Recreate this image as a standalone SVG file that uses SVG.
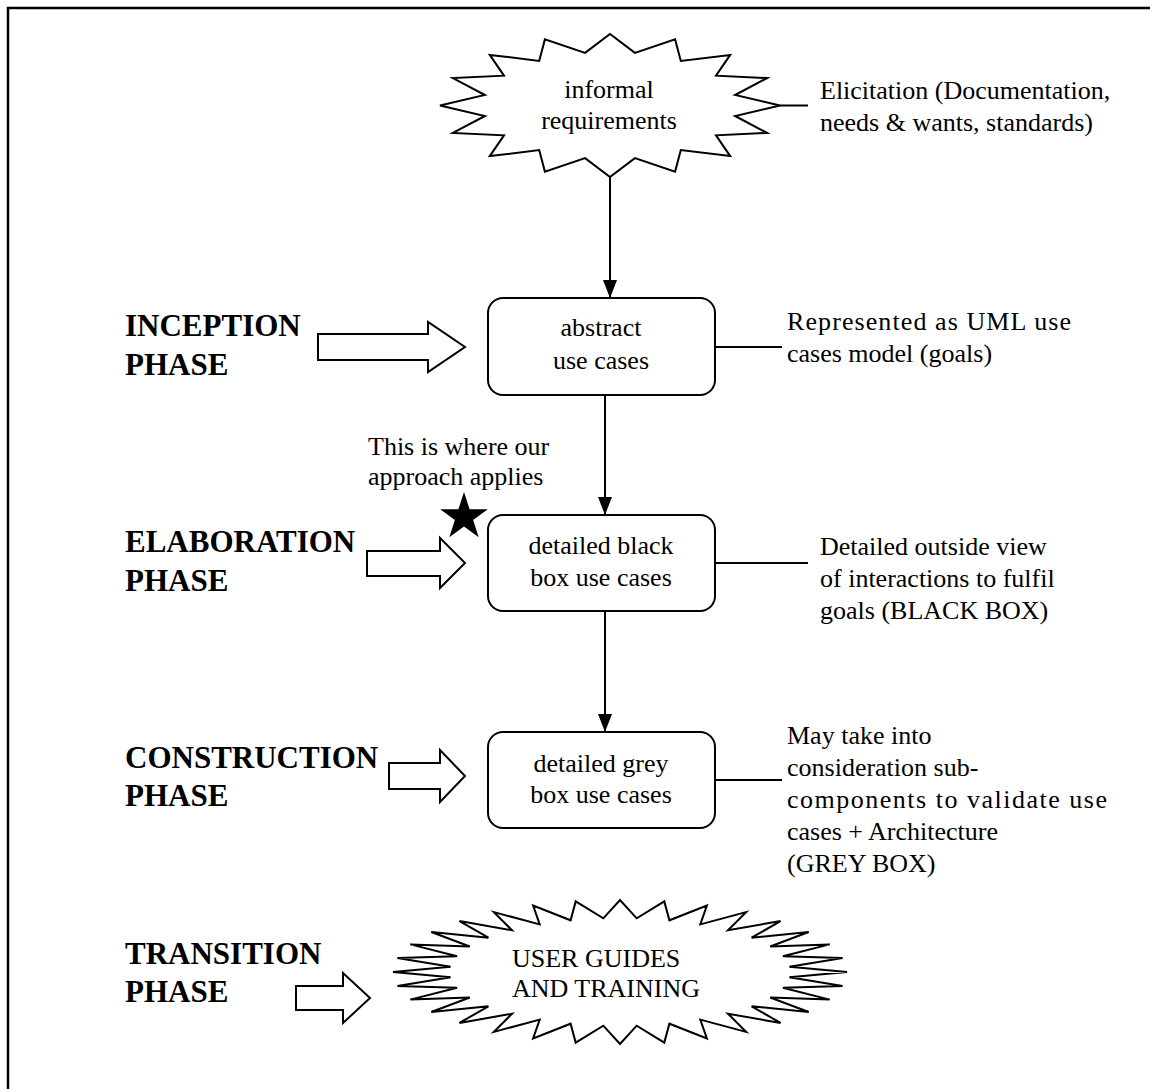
<svg xmlns="http://www.w3.org/2000/svg" width="1150" height="1089" viewBox="0 0 1150 1089">
  <defs>
    <style>
      .t { font-family: "Liberation Serif", "Times New Roman", serif; font-size: 26px; fill: #000; }
      .b { font-family: "Liberation Serif", "Times New Roman", serif; font-size: 31px; font-weight: bold; fill: #000; }
      .mid { text-anchor: middle; }
      .shape { fill: #fff; stroke: #000; stroke-width: 2; stroke-linejoin: miter; }
      .wire { fill: none; stroke: #000; stroke-width: 2; }
    </style>
    <marker id="head" viewBox="0 0 18 14" refX="18" refY="7" markerWidth="18" markerHeight="14" markerUnits="userSpaceOnUse" orient="auto">
      <path d="M0,0 L18,7 L0,14 Z" fill="#000"/>
    </marker>
  </defs>
  <rect width="1150" height="1089" fill="#fff"/>

  <!-- page frame: top and left edges only -->
  <g id="frame">
    <path d="M8,1089 V8 H1150" fill="none" stroke="#000" stroke-width="2.5"/>
  </g>

  <!-- connectors -->
  <g id="connectors">
    <line class="wire" x1="610" y1="177" x2="610" y2="298" marker-end="url(#head)"/>
    <line class="wire" x1="605" y1="395" x2="605" y2="515" marker-end="url(#head)"/>
    <line class="wire" x1="605" y1="611" x2="605" y2="732" marker-end="url(#head)"/>
    <line class="wire" x1="780" y1="105.5" x2="808" y2="105.5"/>
    <line class="wire" x1="715" y1="347" x2="782" y2="347"/>
    <line class="wire" x1="715" y1="563" x2="808" y2="563"/>
    <line class="wire" x1="715" y1="780" x2="782" y2="780"/>
  </g>

  <!-- 16-point burst: informal requirements -->
  <g id="informal-requirements">
    <polygon class="shape" points="780,105.5 735.1,95 767.1,78.1 716,75.7 730.2,54.9 680.8,60.9 675.1,39.4 634.9,52.9 610,34 585.1,52.9 544.9,39.4 539.2,60.9 489.8,54.9 504,75.7 452.9,78.1 484.9,95 440,105.5 484.9,116 452.9,132.9 504,135.3 489.8,156.1 539.2,150.1 544.9,171.6 585.1,158.1 610,177 634.9,158.1 675.1,171.6 680.8,150.1 730.2,156.1 716,135.3 767.1,132.9 735.1,116"/>
    <text class="t mid" x="609" y="98">informal</text>
    <text class="t mid" x="609" y="129">requirements</text>
  </g>
  <g id="note-elicitation">
    <text class="t" x="820" y="99">Elicitation (Documentation,</text>
    <text class="t" x="820" y="131">needs &amp; wants, standards)</text>
  </g>

  <!-- inception -->
  <g id="inception-label">
    <text class="b" x="125" y="336">INCEPTION</text>
    <text class="b" x="125" y="375">PHASE</text>
  </g>
  <g id="inception-arrow">
    <polygon class="shape" points="318,334 428,334 428,322 465,347 428,372 428,360 318,360"/>
  </g>
  <g id="abstract-use-cases">
    <rect class="shape" x="488" y="298" width="227" height="97" rx="15"/>
    <text class="t mid" x="601" y="336">abstract</text>
    <text class="t mid" x="601" y="369">use cases</text>
  </g>
  <g id="note-uml">
    <text class="t" x="787" y="330" textLength="284" lengthAdjust="spacing">Represented as UML use</text>
    <text class="t" x="787" y="362">cases model (goals)</text>
  </g>

  <!-- elaboration -->
  <g id="approach-note">
    <text class="t" x="368" y="455">This is where our</text>
    <text class="t" x="368" y="485">approach applies</text>
  </g>
  <g id="approach-star">
    <polygon fill="#000" points="464,492 469.6,509.3 487.8,509.3 473.1,520 478.7,537.2 464,526.6 449.3,537.2 454.9,520 440.2,509.3 458.4,509.3"/>
  </g>
  <g id="elaboration-label">
    <text class="b" x="125" y="552">ELABORATION</text>
    <text class="b" x="125" y="591">PHASE</text>
  </g>
  <g id="elaboration-arrow">
    <polygon class="shape" points="367,551 440,551 440,538 465,563 440,588 440,576 367,576"/>
  </g>
  <g id="black-box-use-cases">
    <rect class="shape" x="488" y="515" width="227" height="96" rx="15"/>
    <text class="t mid" x="601" y="554">detailed black</text>
    <text class="t mid" x="601" y="586">box use cases</text>
  </g>
  <g id="note-black-box">
    <text class="t" x="820" y="555">Detailed outside view</text>
    <text class="t" x="820" y="587">of interactions to fulfil</text>
    <text class="t" x="820" y="619">goals (BLACK BOX)</text>
  </g>

  <!-- construction -->
  <g id="construction-label">
    <text class="b" x="125" y="768">CONSTRUCTION</text>
    <text class="b" x="125" y="806">PHASE</text>
  </g>
  <g id="construction-arrow">
    <polygon class="shape" points="389,763 440,763 440,750 465,776 440,802 440,789 389,789"/>
  </g>
  <g id="grey-box-use-cases">
    <rect class="shape" x="488" y="732" width="227" height="96" rx="15"/>
    <text class="t mid" x="601" y="772">detailed grey</text>
    <text class="t mid" x="601" y="803">box use cases</text>
  </g>
  <g id="note-grey-box">
    <text class="t" x="787" y="744">May take into</text>
    <text class="t" x="787" y="776">consideration sub-</text>
    <text class="t" x="787" y="808" textLength="320" lengthAdjust="spacing">components to validate use</text>
    <text class="t" x="787" y="840">cases + Architecture</text>
    <text class="t" x="787" y="872">(GREY BOX)</text>
  </g>

  <!-- transition -->
  <g id="transition-label">
    <text class="b" x="125" y="964">TRANSITION</text>
    <text class="b" x="125" y="1002">PHASE</text>
  </g>
  <g id="transition-arrow">
    <polygon class="shape" points="296,986 343,986 343,973 370,998 343,1023 343,1010 296,1010"/>
  </g>
  <!-- 32-point burst: user guides and training -->
  <g id="user-guides-training">
    <polygon class="shape" points="847,972 789.4,966.7 842.6,958 782.9,956.3 829.7,944.4 770.2,946.5 808.7,932 751.6,937.7 780.5,921.1 728,930.3 746.1,912.1 700.3,924.4 706.9,905.5 669.4,920.3 664.3,901.4 636.7,918.3 620,900 603.3,918.3 575.7,901.4 570.6,920.3 533.1,905.5 539.7,924.4 493.9,912.1 512,930.3 459.5,921.1 488.4,937.7 431.3,932 469.8,946.5 410.3,944.4 457.1,956.3 397.4,958 450.6,966.7 393,972 450.6,977.3 397.4,986 457.1,987.7 410.3,999.6 469.8,997.5 431.3,1012 488.4,1006.3 459.5,1022.9 512,1013.7 493.9,1031.9 539.7,1019.6 533.1,1038.5 570.6,1023.7 575.7,1042.6 603.3,1025.7 620,1044 636.7,1025.7 664.3,1042.6 669.4,1023.7 706.9,1038.5 700.3,1019.6 746.1,1031.9 728,1013.7 780.5,1022.9 751.6,1006.3 808.7,1012 770.2,997.5 829.7,999.6 782.9,987.7 842.6,986 789.4,977.3"/>
    <text class="t" x="512" y="967">USER GUIDES</text>
    <text class="t" x="512" y="997">AND TRAINING</text>
  </g>
</svg>
